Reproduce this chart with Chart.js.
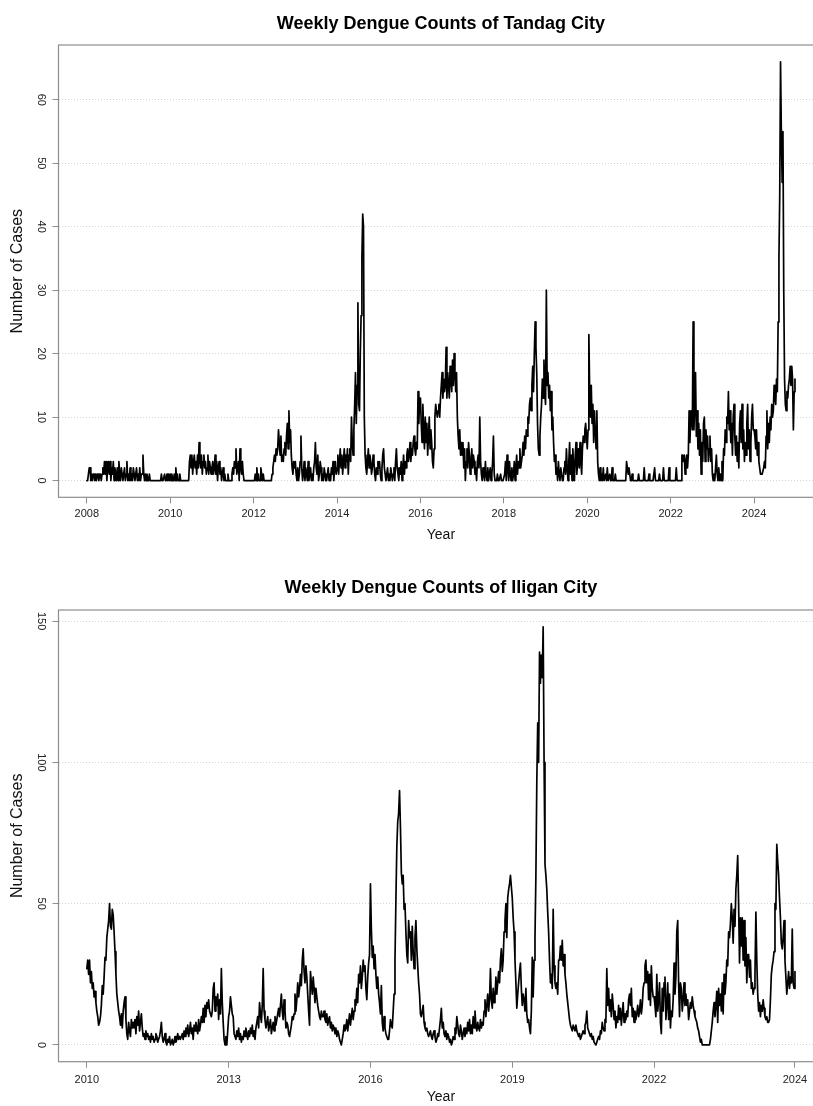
<!DOCTYPE html>
<html>
<head>
<meta charset="utf-8">
<title>Weekly Dengue Counts</title>
<script src="https://cdn.jsdelivr.net/npm/chart.js@4.4.1/dist/chart.umd.min.js"></script>
<style>
  html, body { margin: 0; padding: 0; background: #fff; overflow: hidden; }
  canvas { display: block; }
</style>
</head>
<body>
<canvas id="tandagChart" width="830" height="553"></canvas>
<canvas id="iliganChart" width="830" height="553"></canvas>
<script>
// Tandag City, weekly case counts (52 weeks per year)
const tandag2008 = [0,0,1,2,2,0,1,0,1,1,0,1,0,1,1,0,1,1,0,1,2,1,3,1,3,0,2,3,1,3,0,2,1,3,0,2,1,0,2,0,3,1,0,2,1,0,1,2,0,1,3,0];
const tandag2009 = [1,0,2,0,1,0,2,1,0,1,2,0,1,0,2,0,1,1,4,1,0,1,0,1,0,0,1,0,0,0,0,0,0,0,0,0,0,0,0,0,0,1,0,0,0,1,0,0,1,0,1,0];
const tandag2010 = [1,0,1,0,0,1,0,2,0,1,0,0,1,0,0,0,0,0,0,0,0,0,0,0,3,4,2,4,1,3,4,2,3,1,4,2,6,3,2,4,1,3,4,2,3,1,2,4,1,3,2,1];
const tandag2011 = [2,3,1,2,4,1,3,0,2,3,1,2,0,1,2,0,1,0,0,0,1,0,0,0,0,1,2,1,3,2,5,1,2,3,0,5,2,1,3,1,0,0,0,0,0,0,0,0,0,0,0,0];
const tandag2012 = [0,0,1,0,2,0,1,0,0,2,1,0,1,0,0,0,0,0,0,0,0,0,0,1,2,3,4,3,5,4,5,8,6,4,7,3,4,3,5,6,4,7,9,5,11,6,8,4,2,1,3,2];
const tandag2013 = [3,1,0,2,0,1,3,7,2,0,1,3,0,2,1,0,3,0,1,2,0,1,0,2,3,6,2,1,4,0,1,3,2,0,1,0,2,1,0,0,1,2,0,1,0,2,1,3,0,2,3,1];
const tandag2014 = [2,4,1,3,5,2,4,1,3,5,2,4,3,5,1,4,5,3,10,6,4,8,12,17,9,15,28,12,11,20,26,35,42,40,10,4,2,1,3,5,2,4,3,1,2,4,3,1,0,2,1,3];
const tandag2015 = [2,3,1,0,2,4,5,2,1,0,1,2,0,1,0,2,1,0,1,2,0,3,5,2,1,0,2,1,3,0,2,4,1,3,2,4,5,3,4,6,3,5,4,6,7,5,4,6,5,14,9,13];
const tandag2016 = [13,9,6,12,8,5,10,6,9,4,7,10,5,8,6,3,2,5,10,12,11,10,11,12,10,13,15,17,13,16,14,15,21,13,17,15,13,18,16,14,19,15,20,17,14,17,10,7,5,8,4,6];
const tandag2017 = [4,6,2,5,0,3,5,2,6,4,1,3,5,2,4,3,1,2,0,3,4,2,10,3,1,0,2,1,0,3,1,0,2,0,1,2,0,1,3,7,1,0,0,0,1,0,0,0,1,0,0,0];
const tandag2018 = [0,1,3,0,4,2,0,3,1,0,2,0,1,3,0,2,4,1,3,2,5,2,3,4,6,4,7,5,8,7,10,9,12,13,11,15,18,14,20,25,21,17,9,5,4,7,10,12,16,13,19,14];
const tandag2019 = [12,30,15,17,13,15,11,14,8,10,6,3,4,1,2,0,3,1,0,2,1,0,0,2,3,1,5,2,0,3,6,1,4,0,5,2,0,4,6,1,3,5,2,6,3,1,5,7,6,8,9,7];
const tandag2020 = [5,8,23,14,10,15,9,12,6,11,8,5,11,3,1,0,2,0,1,0,2,0,0,1,0,2,0,0,1,0,0,2,0,0,0,1,0,0,0,0,0,0,0,0,0,0,0,0,0,3,2,1];
const tandag2021 = [2,1,0,0,1,0,0,0,0,0,0,0,1,0,0,0,0,0,0,2,0,0,0,0,0,1,0,0,0,0,0,0,2,0,0,0,0,0,1,0,0,0,0,2,0,0,0,0,0,0,2,0];
const tandag2022 = [0,0,0,0,0,0,0,2,0,0,0,0,0,0,4,4,3,4,1,3,4,2,4,11,6,10,11,8,25,8,12,17,7,11,5,9,4,8,1,6,3,9,10,3,8,5,7,3,5,7,3,5];
const tandag2023 = [1,0,1,0,2,4,1,0,2,0,1,0,3,0,5,4,8,6,10,9,14,8,11,6,9,4,10,12,7,4,7,3,6,2,9,11,6,12,5,8,3,6,4,9,12,5,8,3,6,10,12,8];
const tandag2024 = [8,7,5,8,4,6,3,2,1,1,1,1,2,3,2,7,11,5,9,6,10,8,12,10,11,15,13,12,16,14,25,35,45,66,55,47,55,30,16,12,11,14,13,15,16,18,15,18,16,8,14,16];

// Iligan City, weekly case counts
const iligan2010 = [27,30,25,30,22,26,20,22,17,19,15,12,10,7,8,10,14,21,18,24,31,30,38,41,44,50,42,41,48,46,40,33,25,18,15,12,10,7,11,6,12,15,17,9,4,2,8,5,3,9,6,8];
const iligan2011 = [6,9,4,10,7,12,5,8,11,6,3,4,2,5,3,4,2,3,1,4,2,3,1,2,4,3,1,2,3,5,8,3,1,2,4,1,0,2,1,3,0,1,2,0,1,3,1,2,4,2,3,2];
const iligan2012 = [3,4,2,5,3,6,4,7,3,5,8,4,6,2,7,5,8,6,4,9,5,7,10,8,13,8,14,10,15,13,16,12,11,10,12,20,22,12,17,14,18,9,16,11,27,15,8,2,0,3,0,5];
const iligan2013 = [10,12,17,14,11,10,4,3,2,5,3,6,2,4,1,3,2,5,3,6,4,2,5,3,6,4,7,3,5,2,6,8,10,6,15,11,8,14,27,12,9,6,8,10,5,7,9,4,6,8,5,10];
const iligan2014 = [7,9,11,13,10,14,18,12,9,16,12,6,8,7,4,3,5,7,10,9,11,18,12,16,22,17,20,25,21,30,34,26,22,28,24,18,12,7,26,22,18,24,20,15,20,17,14,12,10,9,12,10];
const iligan2015 = [10,12,9,8,11,7,9,10,6,8,5,7,6,4,6,3,5,4,2,1,0,2,4,7,5,6,9,5,8,11,7,10,13,9,12,16,14,20,15,25,22,28,20,24,30,26,28,20,16,24,29,32];
const iligan2016 = [57,41,31,35,27,32,25,20,24,18,15,11,21,8,5,10,6,4,3,2,2,5,9,7,6,12,18,30,51,70,79,82,90,77,61,57,60,48,50,40,32,29,44,38,40,30,42,33,27,38,44,34];
const iligan2017 = [28,22,18,11,10,12,14,8,6,5,6,4,3,4,5,3,2,4,5,3,1,2,4,3,6,9,13,6,8,4,3,5,2,4,3,1,2,0,1,3,2,6,4,10,7,4,3,7,5,2,4,6];
const iligan2018 = [3,6,4,8,5,9,4,7,4,10,6,12,7,5,8,6,5,9,6,8,7,12,16,10,14,18,12,16,27,16,13,20,15,17,24,18,22,26,22,30,34,26,30,40,44,50,38,52,55,57,60,56];
const iligan2019 = [52,45,40,30,22,13,18,22,26,29,20,14,18,16,12,20,11,8,9,6,4,12,31,17,30,38,60,93,114,100,139,128,138,130,148,100,64,60,55,47,40,30,22,25,20,48,28,22,20,22,18,30];
const iligan2020 = [30,35,30,37,28,32,25,22,18,15,12,9,7,6,5,7,6,5,7,5,4,3,4,2,3,4,5,4,7,8,12,6,5,4,3,4,2,3,1,1,0,1,2,3,2,5,4,8,6,5,9,8];
const iligan2021 = [27,14,20,12,16,10,18,14,9,12,6,10,8,14,9,13,7,11,15,8,11,9,12,10,16,18,14,20,10,13,8,12,9,11,14,10,12,16,11,14,20,22,28,30,22,26,16,25,14,28,20,17];
const iligan2022 = [17,14,10,25,12,16,22,8,4,20,12,22,24,9,14,22,9,18,6,12,10,16,29,18,24,40,44,22,10,22,20,12,16,22,14,18,14,16,9,12,15,13,17,14,12,10,9,8,6,5,3,1];
const iligan2023 = [2,0,0,0,0,0,0,0,0,0,2,5,8,12,15,10,14,19,8,20,14,18,12,22,11,25,18,22,30,28,40,38,43,50,45,36,48,42,55,60,67,50,29,45,35,45,30,44,28,38,22,32];
const iligan2024 = [32,24,30,20,22,18,20,25,47,30,18,12,15,10,14,12,16,13,10,9,10,8,8,9,16,25,28,30,33,50,48,71,65,60,52,45,36,34,38,44,30,24,18,22,26,20,24,22,41,22,20,26];

// axis ticks
const tandagYearTicks = [2008, 2010, 2012, 2014, 2016, 2018, 2020, 2022, 2024];
const tandagCaseTicks = [0, 10, 20, 30, 40, 50, 60];
const iliganYearTicks = [2010, 2013, 2016, 2019, 2022];
const iliganCaseTicks = [0, 50, 100, 150];

const FONT = "'Liberation Sans', Arial, Helvetica, sans-serif";
Chart.defaults.font.family = FONT;
Chart.defaults.color = '#000';

// turn a list of yearly week arrays into {x: decimal year, y: count}
function weeklyPoints(firstYear, years) {
    const pts = [];
    years.forEach((weeks, i) => {
        weeks.forEach((v, w) => pts.push({ x: firstYear + i + w / 52, y: v }));
    });
    return pts;
}

// 4% extra room on each side of the data, like base R plots
function padded(lo, hi) {
    const d = (hi - lo) * 0.04;
    return [lo - d, hi + d];
}

// gray frame around the plotting region
const plotBox = {
    id: 'plotBox',
    afterDraw(chart) {
        const { ctx, chartArea: a } = chart;
        ctx.save();
        ctx.strokeStyle = '#8e8e8e';
        ctx.lineWidth = 1.2;
        ctx.strokeRect(a.left, a.top, a.right - a.left, a.bottom - a.top);
        ctx.restore();
    }
};

function makeChart(canvasId, cfg) {
    const xs = cfg.points.map(p => p.x);
    const ys = cfg.points.map(p => p.y);
    const xr = padded(Math.min(...xs), Math.max(...xs));
    const yr = padded(0, Math.max(...ys));

    return new Chart(document.getElementById(canvasId), {
        type: 'line',
        data: {
            datasets: [{
                data: cfg.points,
                borderColor: '#000',
                borderWidth: 1.7,
                pointRadius: 0,
                tension: 0,
                fill: false,
                borderJoinStyle: 'round',
                borderCapStyle: 'round'
            }]
        },
        options: {
            responsive: false,
            animation: false,
            devicePixelRatio: 1,
            layout: { padding: { left: 0, right: 6.7, top: 0, bottom: 0 } },
            plugins: {
                legend: { display: false },
                tooltip: { enabled: false },
                title: {
                    display: true,
                    text: cfg.title,
                    fullSize: false,
                    color: '#000',
                    font: { size: 18, weight: 'bold' },
                    padding: { top: cfg.titleTop, bottom: cfg.titleBottom }
                }
            },
            scales: {
                x: {
                    type: 'linear',
                    min: xr[0],
                    max: xr[1],
                    afterBuildTicks: s => { s.ticks = cfg.xTicks.map(v => ({ value: v })); },
                    afterFit: s => { s.height = cfg.xAxisHeight; },
                    ticks: {
                        callback: v => String(Math.floor(v + 1e-9)),
                        autoSkip: false,
                        maxRotation: 0,
                        padding: cfg.xTickPad,
                        color: '#222',
                        font: { size: 11 }
                    },
                    grid: { drawOnChartArea: false, tickLength: 6, tickColor: '#8e8e8e', tickWidth: 1 },
                    border: { display: false },
                    title: {
                        display: true,
                        text: 'Year',
                        color: '#111',
                        font: { size: 14 },
                        padding: { top: 0, bottom: cfg.yearPad }
                    }
                },
                y: {
                    type: 'linear',
                    min: yr[0],
                    max: yr[1],
                    afterBuildTicks: s => { s.ticks = cfg.yTicks.map(v => ({ value: v })); },
                    afterFit: s => { s.width = 58.5; },
                    ticks: {
                        minRotation: -90,
                        maxRotation: -90,
                        crossAlign: 'center',
                        autoSkip: false,
                        padding: cfg.yTickPad,
                        color: '#222',
                        font: { size: 11 }
                    },
                    grid: {
                        color: '#d4d4d4',
                        lineWidth: 1,
                        tickLength: 6,
                        tickColor: '#8e8e8e',
                        tickWidth: 1,
                        tickBorderDash: []
                    },
                    border: { display: false, dash: [1, 2] },
                    title: {
                        display: true,
                        text: 'Number of Cases',
                        color: '#111',
                        font: { size: 16 },
                        padding: { top: 8.4, bottom: 0 }
                    }
                }
            }
        },
        plugins: [plotBox]
    });
}

const tandagPoints = weeklyPoints(2008, [
    tandag2008, tandag2009, tandag2010, tandag2011, tandag2012, tandag2013,
    tandag2014, tandag2015, tandag2016, tandag2017, tandag2018, tandag2019,
    tandag2020, tandag2021, tandag2022, tandag2023, tandag2024
]);

const iliganPoints = weeklyPoints(2010, [
    iligan2010, iligan2011, iligan2012, iligan2013, iligan2014, iligan2015,
    iligan2016, iligan2017, iligan2018, iligan2019, iligan2020, iligan2021,
    iligan2022, iligan2023, iligan2024
]);

makeChart('tandagChart', {
    title: 'Weekly Dengue Counts of Tandag City',
    points: tandagPoints,
    xTicks: tandagYearTicks,
    yTicks: tandagCaseTicks,
    titleTop: 13.2,
    titleBottom: 10.2,
    xAxisHeight: 55.7,
    xTickPad: 4,
    yearPad: 9.6,
    yTickPad: 5.4
});

// last tick sits on the final week and is labelled with its year
const iliganLastWeek = iliganPoints[iliganPoints.length - 1].x;

makeChart('iliganChart', {
    title: 'Weekly Dengue Counts of Iligan City',
    points: iliganPoints,
    xTicks: iliganYearTicks.concat([iliganLastWeek]),
    yTicks: iliganCaseTicks,
    titleTop: 24.2,
    titleBottom: 11.2,
    xAxisHeight: 44.3,
    xTickPad: 5.7,
    yearPad: 0,
    yTickPad: 2.3
});
</script>
</body>
</html>
